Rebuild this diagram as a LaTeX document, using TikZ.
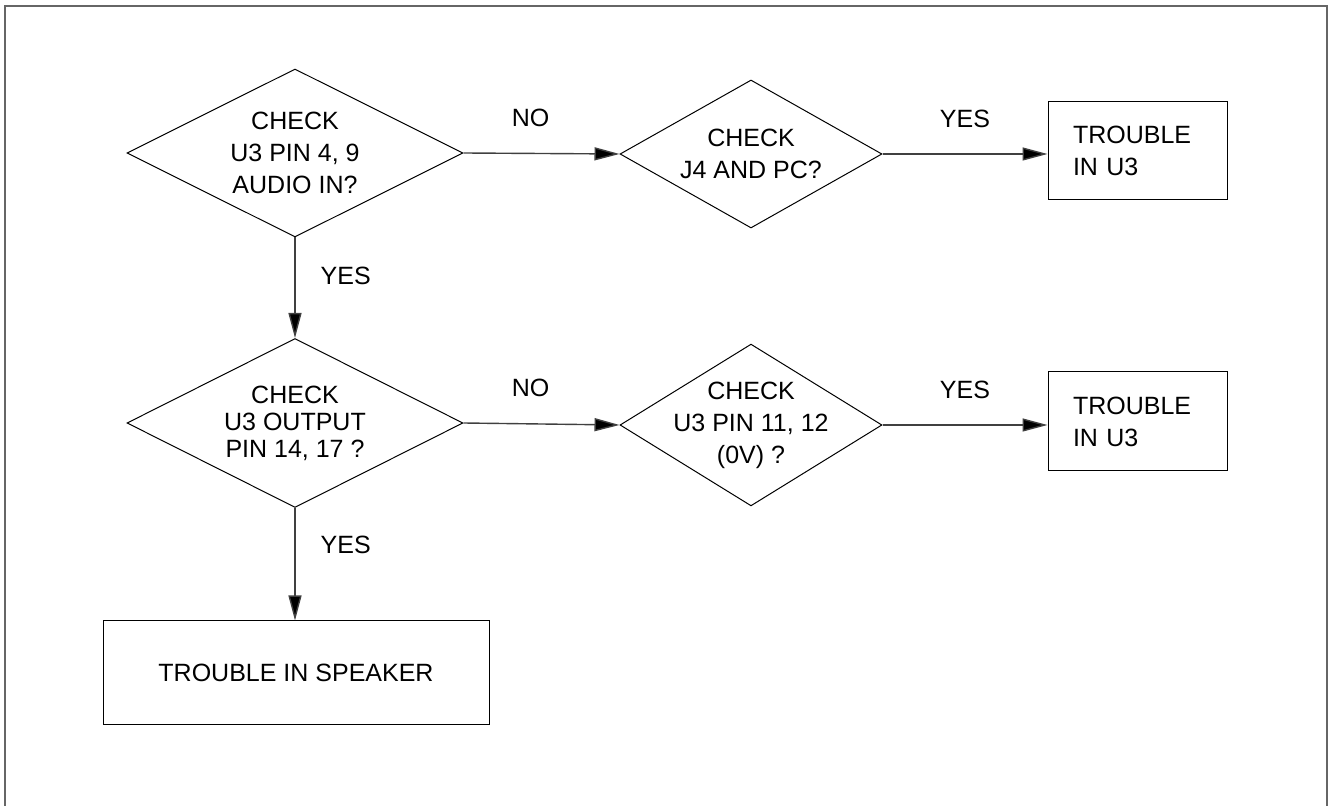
\documentclass[tikz,border=0pt]{standalone}
\usepackage{fontspec}
\setmainfont{Liberation Sans}
\usepackage{tikz}
\usetikzlibrary{shapes.geometric, arrows.meta}

\begin{document}
\begin{tikzpicture}[x=0.5pt, y=-0.5pt, every node/.style={font=\fontsize{12.5}{16}\selectfont}]
        % Define block styles
        \tikzstyle{decision} = [diamond, draw, line width=0.5pt, inner sep=-10pt,
                                align=center, minimum width=168pt, minimum height=84pt]
        \tikzstyle{block} = [rectangle, draw, line width=0.5pt, minimum width=89.5pt,
                             minimum height=49pt, inner xsep=12.5pt, text width=64.5pt, align=left]
        \tikzstyle{lbl} = [inner sep=0pt]
        \tikzstyle{arrow} = [line width=0.7pt, draw=black!75, -{Triangle[length=12.5pt, width=6.5pt, fill=black]}]

        % Page and frame
        \useasboundingbox (0,0) rectangle (1328,806);
        \draw [draw=black!60, line width=1pt] (5,812) -- (5,6) -- (1327,6) -- (1327,812);

        % Upper row
        \node (chkaudio) [decision] at (295,153) {CHECK\\U3 PIN 4, 9\\AUDIO IN?};
        \node (chkpc) [decision, minimum width=131pt, minimum height=74pt] at (751,154) {CHECK\\J4 AND PC?};
        \node (troubleA) [block] at (1137.5,151) {TROUBLE\\IN U3};

        % Middle row
        \node (chkout) [decision, minimum height=84.5pt] at (295,423) {CHECK\\[-2.5pt]U3 OUTPUT\\[-2.5pt]PIN 14, 17 ?};
        \node (chkvolt) [decision, minimum width=131pt, minimum height=75pt] at (751,425) {CHECK\\U3 PIN 11, 12\\(0V) ?};
        \node (troubleB) [block, minimum height=49.5pt] at (1137.5,421.5) {TROUBLE\\IN U3};

        % Bottom
        \node (speaker) [rectangle, draw, line width=0.5pt, minimum width=193pt, minimum height=51.5pt] at (296,672.5) {TROUBLE IN SPEAKER};

        % Arrows
        \draw [arrow] (chkaudio.east) -- node[lbl, pos=0.43, above=13pt] (noA) {NO} (chkpc.west);
        \draw [arrow] (chkpc.east) -- node[lbl, pos=0.5, above=13pt] (yesA) {YES} (troubleA.west |- chkpc.east);
        \draw [arrow] (chkaudio.south) -- node[lbl, pos=0.38, right=12.5pt] (yesB) {YES} (chkout.north);
        \draw [arrow] (chkout.east) -- node[lbl, pos=0.43, above=13pt] (noB) {NO} (chkvolt.west);
        \draw [arrow] (chkvolt.east) -- node[lbl, pos=0.5, above=13pt] (yesC) {YES} (troubleB.west |- chkvolt.east);
        \draw [arrow] (chkout.south) -- node[lbl, pos=0.33, right=12.5pt] (yesD) {YES} (speaker.north -| chkout.south);
\end{tikzpicture}
\end{document}
